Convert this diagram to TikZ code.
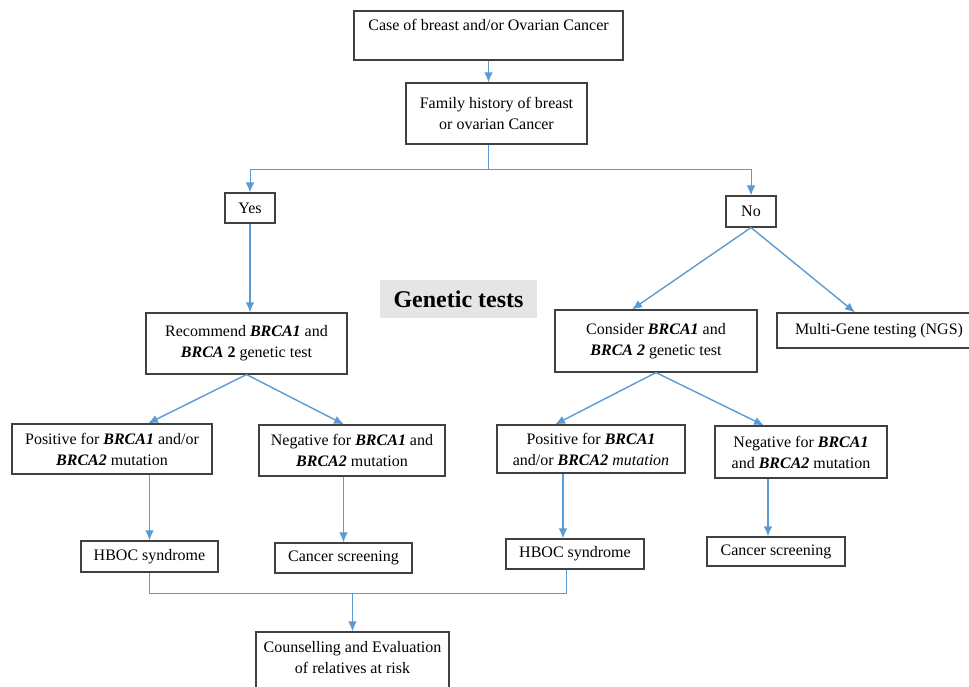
\documentclass[tikz,border=0pt]{standalone}
\usepackage{fontspec}
\setmainfont{Liberation Serif}
\usepackage{tikz}
\usetikzlibrary{arrows.meta}
\definecolor{flowblue}{RGB}{91,155,213}
\newcommand{\gene}[1]{\textbf{\textit{#1}}}

\begin{document}
\begin{tikzpicture}[
    x=1pt, y=-1pt,
    >={Latex[length=10pt,width=8.5pt]},
    block/.style={draw=black!75, rectangle, line width=1.1pt, inner sep=0pt, align=center, font=\fontsize{16}{21}\selectfont},
    wire/.style={draw=flowblue, line width=1.4pt},
    flow/.style={wire, ->}
]
    \useasboundingbox (0,0) rectangle (969,686);
    \clip (0,0) rectangle (969,686);

    % top of the tree
    \node[block, minimum width=269, minimum height=49] (case) at (488.5,35.5) {Case of breast and/or Ovarian Cancer\\ \mbox{}};
    \node[block, minimum width=181, minimum height=61] (fam) at (496.5,113.5) {Family history of breast\\ or ovarian Cancer};
    \node[block, minimum width=50, minimum height=30] (yes) at (250,208) {Yes};
    \node[block, minimum width=50, minimum height=31] (no) at (751,211.5) {No};

    \node[fill=black!10, minimum width=157, minimum height=38, font=\fontsize{24}{28}\selectfont\bfseries] (title) at (458.5,299) {Genetic tests};

    % tests
    \node[block, minimum width=201, minimum height=61] (rec) at (246.5,343.5) {Recommend \gene{BRCA1} and\\ \textbf{\textit{BRCA} 2} genetic test};
    \node[block, minimum width=202, minimum height=62] (cons) at (656,341) {Consider \gene{BRCA1} and\\ \gene{BRCA 2} genetic test};
    \node[block, minimum width=204, minimum height=35] (ngs) at (879,330.5) {Multi-Gene testing (NGS)};

    % results
    \node[block, minimum width=200, minimum height=50] (posL) at (112,449) {Positive for \gene{BRCA1} and/or\\ \gene{BRCA2} mutation};
    \node[block, minimum width=186, minimum height=51] (negL) at (352,450.5) {Negative for \gene{BRCA1} and\\ \gene{BRCA2} mutation};
    \node[block, minimum width=188, minimum height=48] (posR) at (591,449) {Positive for \gene{BRCA1}\\ and/or \gene{BRCA2} \textit{mutation}};
    \node[block, minimum width=172, minimum height=52] (negR) at (801,452) {Negative for \gene{BRCA1}\\ and \gene{BRCA2} mutation};

    \node[block, minimum width=137, minimum height=31] (hbocL) at (149.5,556.5) {HBOC syndrome};
    \node[block, minimum width=137, minimum height=30] (cancL) at (343.5,558) {Cancer screening};
    \node[block, minimum width=138, minimum height=30] (hbocR) at (575,554) {HBOC syndrome};
    \node[block, minimum width=138, minimum height=29] (cancR) at (776,551.5) {Cancer screening};

    \node[block, minimum width=193, minimum height=72] (couns) at (352.5,668) {Counselling and Evaluation\\ of relatives at risk\\ \mbox{}};

    % connectors
    \draw[flow] (case.south) -- (case.south |- fam.north);
    \draw[wire, line width=1pt] (case.south |- fam.south) -- ++(0,25) coordinate (split);
    \draw[flow, line width=1pt] (split) -| (yes.north);
    \draw[flow, line width=1pt] (split) -| (no.north);

    \draw[flow] (yes.south) -- (yes.south |- rec.north);
    \draw[flow] (no.south) -- ([xshift=-24]cons.north);
    \draw[flow] (no.south) -- ([xshift=-24]ngs.north);

    \draw[flow] (rec.south) -- ([xshift=36]posL.north);
    \draw[flow] (rec.south) -- ([xshift=-8]negL.north);
    \draw[flow] (cons.south) -- ([xshift=-36]posR.north);
    \draw[flow] (cons.south) -- ([xshift=-37]negR.north);

    \draw[flow] (hbocL.north |- posL.south) -- (hbocL.north);
    \draw[flow] (cancL.north |- negL.south) -- (cancL.north);
    \draw[flow] ([xshift=-12]hbocR.north |- posR.south) -- ([xshift=-12]hbocR.north);
    \draw[flow] ([xshift=-8]cancR.north |- negR.south) -- ([xshift=-8]cancR.north);

    \draw[wire, line width=1pt] (hbocL.south) -- ++(0,21) coordinate (merge) -| ([xshift=-9]hbocR.south);
    \draw[flow] (couns.north |- merge) -- (couns.north);
\end{tikzpicture}
\end{document}
